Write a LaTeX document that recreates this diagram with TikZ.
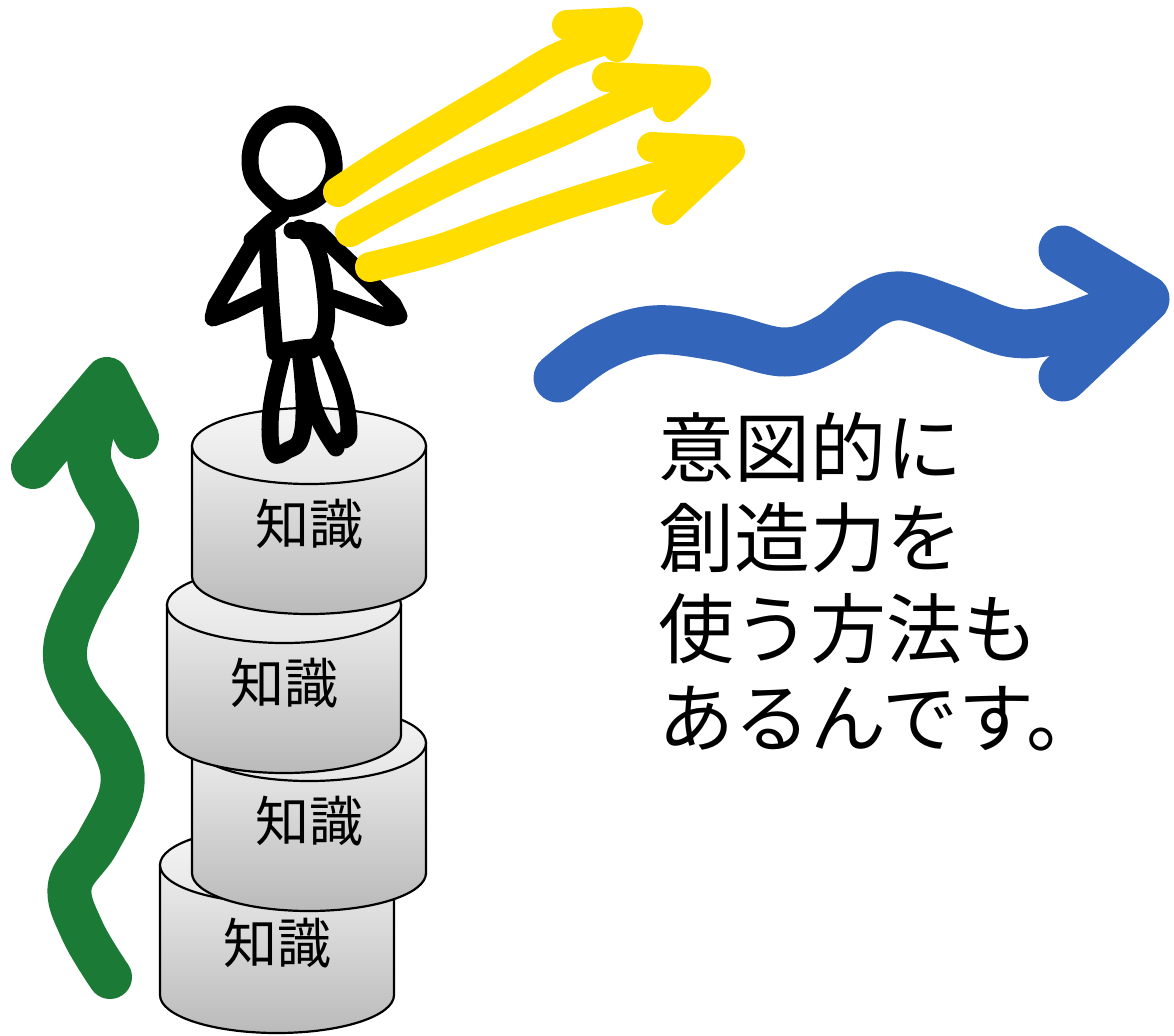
\documentclass[tikz,border=0pt]{standalone}
\usepackage{fontspec}
\newfontfamily\jpfont{Noto Sans CJK JP}
\definecolor{beamyellow}{HTML}{FFDD00}
\definecolor{flowblue}{HTML}{3366BB}
\definecolor{climbgreen}{HTML}{1A7A36}

\tikzset{
  diskbody/.style={draw=black, line width=1.1pt, top color=black!7, bottom color=black!27},
  disktop/.style={draw=black, line width=1.1pt, top color=black!4, bottom color=black!10},
  disklabel/.style={font=\jpfont\fontsize{27}{30}\selectfont, inner sep=0pt, outer sep=0pt},
  figline/.style={draw=black, line width=8.5pt, line cap=round, line join=round},
  beam/.style={draw=beamyellow, line width=15pt, line cap=round, line join=round},
  flow/.style={draw=flowblue, line width=24.5pt, line cap=round, line join=round},
  climb/.style={draw=climbgreen, line width=22pt, line cap=round, line join=round},
  message/.style={font=\jpfont\fontsize{38}{45}\selectfont, inner sep=0pt, outer sep=0pt, anchor=base west},
}

% one stacked disk: name, centre x, y of the top ellipse centre
\newcommand{\knowdisk}[3]{%
  \path[diskbody] ({#2-117},{-#3}) -- ({#2-117},{-#3-130})
     arc[start angle=180,end angle=360,x radius=117,y radius=38]
     -- ({#2+117},{-#3}) -- cycle;
  \path[disktop] (#2,-#3) ellipse[x radius=117,y radius=38];
  \node[disklabel] (#1) at (#2,{-#3-78}) {知識};
}

\begin{document}
\begin{tikzpicture}[x=0.5pt,y=0.5pt]
\useasboundingbox (0,0) rectangle (1174,-1035);
\fill[white] (0,0) rectangle (1174,-1035);

% stack of knowledge, bottom first
\knowdisk{diskD}{277}{865}
\knowdisk{diskC}{309}{743}
\knowdisk{diskB}{284}{605}
\knowdisk{diskA}{309}{446}

% stick figure standing on the stack
\draw[figline] (292,-114) to[out=0,in=95] (334,-163) to[out=-85,in=10] (294,-208)
  to[out=190,in=-45] (262,-190) to[out=135,in=-90] (250,-160)
  to[out=90,in=180] (292,-114) -- cycle;
\draw[figline] (252,-240) -- (270,-223) -- (281,-215);
\draw[figline] (292,-230) -- (312,-230);
\draw[figline] (267,-232) .. controls (269,-280) and (272,-320) .. (275,-352);
\draw[figline] plot[smooth, tension=0.7] coordinates
  {(300,-228) (316,-247) (325,-290) (325,-330) (312,-350)};
\draw[figline] (277,-352) -- (300,-348) -- (326,-346);
\draw[figline] (259,-234) -- (216,-306) -- (213,-318) -- (233,-311) -- (264,-296);
\draw[figline] (318,-232) -- (393,-304) -- (399,-316) -- (389,-318) -- (333,-298);
\draw[figline] plot[smooth, tension=0.7] coordinates
  {(282,-357) (271,-410) (273,-452) (288,-450) (301,-438) (304,-400) (300,-350)};
\draw[figline] plot[smooth, tension=0.7] coordinates
  {(303,-355) (315,-410) (336,-448)};
\draw[figline] plot[smooth, tension=0.7] coordinates
  {(326,-350) (343,-392) (349,-432) (343,-440)};

% yellow arrows from the figure
\draw[beam] plot[smooth, tension=0.6] coordinates
  {(338,-192) (387,-160) (453,-120) (507,-88) (553,-60) (590,-45) (618,-36)};
\draw[beam] (567,-25) -- (628,-22) -- (617,-47);
\draw[beam] plot[smooth, tension=0.6] coordinates
  {(350,-232) (403,-203) (470,-170) (553,-135) (603,-112) (647,-93) (685,-84)};
\draw[beam] (607,-77) -- (696,-81) -- (668,-107);
\draw[beam] plot[smooth, tension=0.6] coordinates
  {(370,-267) (437,-250) (503,-226) (570,-203) (653,-178) (718,-158)};
\draw[beam] (652,-147) -- (730,-151) -- (667,-210);

% blue wavy arrow
\draw[flow] plot[smooth, tension=0.6] coordinates
  {(558,-378) (600,-347) (653,-330) (720,-337) (784,-352) (830,-337) (870,-305) (903,-296) (950,-310) (1013,-333) (1070,-326) (1140,-300)};
\draw[flow] (1063,-250) -- (1145,-299) -- (1063,-377);

% green rising arrow
\draw[climb] plot[smooth, tension=0.65] coordinates
  {(110,-977) (82,-930) (70,-885) (98,-842) (122,-788) (112,-742) (76,-690) (65,-650) (80,-605) (104,-562) (117,-522) (96,-480) (89,-450) (100,-405)};
\draw[climb] (33,-467) -- (107,-379) -- (137,-437);

% message
\node[message] (msgA) at (658,-476) {意図的に};
\node[message] (msgB) at (658,-566) {創造力を};
\node[message] (msgC) at (658,-657) {使う方法も};
\node[message] (msgD) at (658,-746) {あるんです。};
\end{tikzpicture}
\end{document}
